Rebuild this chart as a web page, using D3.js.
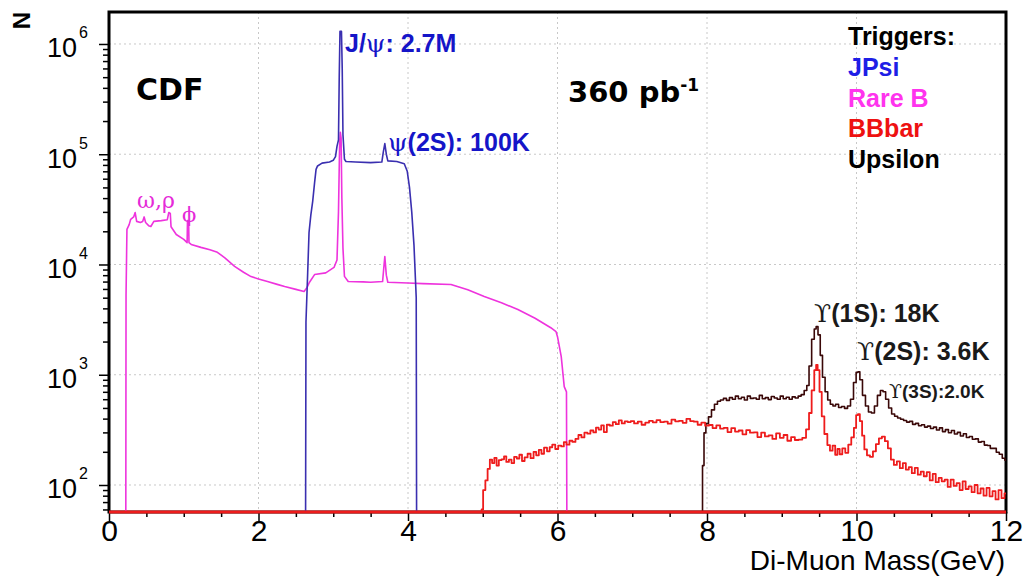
<!DOCTYPE html>
<html><head><meta charset="utf-8">
<script src="https://cdn.jsdelivr.net/npm/d3@7"></script>
<style>html,body{margin:0;padding:0;background:#fff;} svg{display:block}</style>
</head><body>
<svg id="chart" width="1023" height="578"></svg>
<script>
// ---------------- data (mass in GeV, counts per bin) ----------------
const xTicks = [0, 2, 4, 6, 8, 10, 12];
const yTicks = [1e2, 1e3, 1e4, 1e5, 1e6];
const legendLabels = ["Triggers:", "JPsi", "Rare B", "BBbar", "Upsilon"];

const rareBData = [
  [0.225,0],[0.228,5300],[0.24,20800],[0.27,23000],[0.29,25700],[0.33,27000],[0.35,29600],[0.37,24600],
  [0.42,24000],[0.45,24500],[0.47,27000],[0.49,24000],[0.53,22500],[0.56,22100],[0.6,24600],[0.7,25000],
  [0.78,25500],[0.80,29600],[0.82,29000],[0.83,22000],[0.9,18700],[1.0,16900],[1.045,15800],[1.05,25000],
  [1.065,25000],[1.07,15800],[1.1,15200],[1.23,14300],[1.35,13600],[1.45,12900],[1.55,11500],[1.68,9600],
  [1.8,8500],[1.9,7770],[2.0,7400],[2.12,7000],[2.25,6600],[2.35,6310],[2.5,5950],[2.61,5690],[2.65,6200],
  [2.68,6860],[2.75,8100],[2.9,8400],[3.01,9400],[3.05,11000],[3.07,30000],[3.085,120000],[3.095,158000],
  [3.105,140000],[3.115,40000],[3.13,14000],[3.15,7800],[3.2,7000],[3.4,6950],[3.5,6900],[3.66,7000],
  [3.68,10000],[3.69,11800],[3.71,8000],[3.73,6900],[4.0,6800],[4.2,6700],[4.575,6580],[4.8,5900],
  [5.02,5120],[5.25,4500],[5.47,3900],[5.7,3250],[5.91,2670],[5.98,2460],[6.0,2215],[6.05,1460],
  [6.09,780],[6.12,700],[6.125,0]
];

const jpsiData = [
  [2.63,0],[2.635,3000],[2.658,8400],[2.676,19500],[2.70,28000],[2.725,37400],[2.75,55000],
  [2.77,73000],[2.79,78300],[2.85,83000],[2.95,85000],[3.00,88000],[3.03,95000],[3.05,118000],
  [3.07,135000],[3.08,500000],[3.09,1300000],[3.11,1300000],[3.12,600000],[3.13,150000],[3.15,90000],
  [3.17,86000],[3.3,85000],[3.5,84000],[3.65,85000],[3.67,105000],[3.69,125000],[3.71,100000],
  [3.73,87000],[3.85,86000],[3.95,82000],[3.99,70000],[4.02,50000],[4.05,30000],[4.08,15000],
  [4.11,5000],[4.115,0]
];

const upsilonData = [
  [7.93,0],[7.95,150],[7.97,297],[8.00,360],[8.04,415],[8.08,480],[8.12,540],[8.16,575],[8.20,590],
  [8.24,610],[8.28,585],[8.32,620],[8.36,600],[8.40,640],[8.44,605],[8.48,625],[8.52,590],[8.56,640],
  [8.60,610],[8.64,615],[8.68,600],[8.72,650],[8.76,605],[8.80,620],[8.84,595],[8.88,635],[8.92,615],
  [8.96,600],[9.00,640],[9.04,605],[9.08,625],[9.12,600],[9.16,630],[9.20,615],[9.24,640],[9.28,660],
  [9.32,720],[9.35,800],[9.38,1200],[9.42,2100],[9.45,2600],[9.47,2730],[9.50,2300],[9.53,1500],
  [9.56,950],[9.60,700],[9.63,590],[9.67,540],[9.70,520],[9.74,540],[9.78,505],[9.82,515],[9.86,495],
  [9.90,520],[9.94,600],[9.98,850],[10.01,1050],[10.03,1065],[10.06,900],[10.10,650],[10.14,520],
  [10.18,460],[10.22,450],[10.26,520],[10.30,650],[10.34,720],[10.37,700],[10.41,600],[10.45,500],
  [10.49,440],[10.53,420],[10.57,405],[10.61,395],[10.65,385],[10.69,372],[10.73,378],[10.77,355],
  [10.81,362],[10.85,345],[10.89,352],[10.93,335],[10.97,342],[11.01,325],[11.05,335],[11.09,315],
  [11.13,330],[11.17,305],[11.21,318],[11.25,298],[11.29,312],[11.33,290],[11.37,300],[11.41,278],
  [11.45,292],[11.49,270],[11.53,275],[11.57,260],[11.61,262],[11.65,245],[11.69,248],[11.73,230],
  [11.77,228],[11.81,215],[11.85,215],[11.89,198],[11.93,190],[11.97,175],[12.0,168]
];

const bbbarData = [
  [0,0],[4.98,0],[4.99,60],[5.02,90],[5.05,110],[5.08,140],[5.11,170],[5.14,158],[5.17,176],[5.20,150],
  [5.23,168],[5.27,171],[5.30,182],[5.33,162],[5.37,170],[5.40,158],[5.44,180],[5.47,174],[5.51,188],
  [5.54,165],[5.58,178],[5.62,192],[5.66,175],[5.70,200],[5.73,186],[5.77,208],[5.80,192],[5.84,218],
  [5.88,202],[5.91,220],[5.95,232],[5.99,212],[6.03,228],[6.07,224],[6.10,245],[6.14,232],[6.18,252],
  [6.22,246],[6.26,262],[6.30,284],[6.34,270],[6.38,298],[6.42,292],[6.46,312],[6.50,300],[6.53,332],
  [6.57,318],[6.60,348],[6.64,302],[6.68,352],[6.72,345],[6.76,372],[6.80,356],[6.84,385],[6.88,362],
  [6.92,378],[6.96,372],[7.00,380],[7.05,362],[7.10,376],[7.15,352],[7.20,368],[7.25,382],[7.30,370],
  [7.35,388],[7.40,372],[7.45,376],[7.50,360],[7.55,392],[7.60,378],[7.65,382],[7.70,366],[7.75,398],
  [7.80,380],[7.85,375],[7.90,352],[7.95,368],[8.00,345],[8.05,350],[8.10,328],[8.15,348],[8.20,325],
  [8.25,330],[8.30,302],[8.35,328],[8.40,305],[8.45,312],[8.50,288],[8.55,315],[8.60,298],[8.65,300],
  [8.70,272],[8.75,298],[8.80,276],[8.85,282],[8.90,262],[8.95,294],[9.00,268],[9.05,284],[9.10,252],
  [9.15,272],[9.20,256],[9.25,258],[9.30,268],[9.35,320],[9.38,450],[9.42,720],[9.45,1100],[9.47,1230],
  [9.49,1100],[9.52,700],[9.55,420],[9.59,290],[9.63,230],[9.66,205],[9.70,228],[9.73,188],[9.76,212],
  [9.79,190],[9.83,215],[9.87,196],[9.91,232],[9.95,270],[9.98,330],[10.01,430],[10.03,440],[10.06,380],
  [10.09,280],[10.12,210],[10.16,186],[10.20,180],[10.24,202],[10.28,235],[10.32,265],[10.36,275],
  [10.40,250],[10.44,215],[10.48,170],[10.52,152],[10.56,164],[10.60,142],[10.64,158],[10.68,138],
  [10.72,145],[10.76,128],[10.80,143],[10.84,124],[10.88,132],[10.92,120],[10.96,131],[11.00,110],
  [11.04,126],[11.08,106],[11.12,116],[11.16,108],[11.20,112],[11.24,96],[11.28,112],[11.32,98],
  [11.36,104],[11.40,90],[11.44,108],[11.48,92],[11.52,97],[11.56,86],[11.60,100],[11.64,84],[11.68,93],
  [11.72,80],[11.76,94],[11.80,79],[11.84,88],[11.88,74],[11.92,90],[11.96,76],[12.0,84]
];

// ---------------- layout ----------------
const svg = d3.select("#chart");
const L = 109, R = 1006, T = 12, B = 512;
const x = d3.scaleLinear().domain([0, 12]).range([L, R]);
const y = d3.scaleLog().domain([56.9, 1.95e6]).range([B, T]);

const sans = "'Liberation Sans', Arial, Helvetica, sans-serif";
const narrow = "'Liberation Sans Narrow', 'Liberation Sans', Arial, sans-serif";
const serif = "'DejaVu Serif', 'Liberation Serif', serif";

// grid
const grid = svg.append("g").attr("stroke", "#c8c8c8").attr("stroke-width", 1).attr("stroke-dasharray", "2,3");
grid.selectAll("line.gx").data(xTicks.filter(d => d > 0 && d < 12)).join("line")
  .attr("x1", d => x(d)).attr("x2", d => x(d)).attr("y1", T).attr("y2", B);
grid.selectAll("line.gy").data(yTicks).join("line")
  .attr("x1", L).attr("x2", R).attr("y1", d => y(d)).attr("y2", d => y(d));

// axes
const minorY = [];
for (let e = 1; e <= 6; e++) for (let k = 2; k <= 9; k++) { const v = k * Math.pow(10, e); if (v > 56.9 && v < 1.95e6) minorY.push(v); }
const yMinorAxis = d3.axisLeft(y).tickValues(minorY).tickSize(6).tickFormat(() => "");
const yAxis = d3.axisLeft(y).tickValues(yTicks).tickSize(10).tickFormat(() => "");
const gyMinor = svg.append("g").attr("transform", `translate(${L},0)`).call(yMinorAxis);
const gy = svg.append("g").attr("transform", `translate(${L},0)`).call(yAxis);
[gyMinor, gy].forEach(g => { g.select(".domain").remove(); g.selectAll(".tick line").attr("stroke", "#000").attr("stroke-width", 1.5); });
gy.selectAll(".tick text").each(function (d) {
  const t = d3.select(this);
  t.text(null).attr("x", -21).attr("dy", null).attr("y", 13)
    .attr("text-anchor", "end").attr("fill", "#000").attr("font-family", sans).attr("font-size", 27);
  t.append("tspan").text("10");
  t.append("tspan").attr("dx", 2).attr("dy", -19).attr("font-size", 16).text(Math.round(Math.log10(d)));
});

const minorX = d3.range(0, 12.01, 0.5).filter(v => v % 2 !== 0);
const xMinorAxis = d3.axisBottom(x).tickValues(minorX).tickSize(5).tickFormat(() => "");
const xAxis = d3.axisBottom(x).tickValues(xTicks).tickSize(9).tickFormat(d3.format("d"));
const gxMinor = svg.append("g").attr("transform", `translate(0,${B})`).call(xMinorAxis);
const gx = svg.append("g").attr("transform", `translate(0,${B})`).call(xAxis);
[gxMinor, gx].forEach(g => { g.select(".domain").remove(); g.selectAll(".tick line").attr("stroke", "#000").attr("stroke-width", 1.5); });
gx.selectAll(".tick text").attr("y", 29).attr("dy", null).attr("fill", "#000")
  .attr("font-family", narrow).attr("font-size", 30);

// frame
svg.append("rect").attr("x", L).attr("y", T).attr("width", R - L).attr("height", B - T)
  .attr("fill", "none").attr("stroke", "#000").attr("stroke-width", 3);

// series
svg.append("defs").append("clipPath").attr("id", "clip").append("rect")
  .attr("x", L).attr("y", T).attr("width", R - L).attr("height", B - T + 2);
const yOf = d => d[1] > 0 ? y(d[1]) : B;
const lineLin = d3.line().x(d => x(d[0])).y(yOf).curve(d3.curveLinear);
const lineStep = d3.line().x(d => x(d[0])).y(yOf).curve(d3.curveStep);
const plot = svg.append("g").attr("clip-path", "url(#clip)").attr("fill", "none");
const series = [
  { data: rareBData, color: "#ee33dd", w: 1.6, gen: lineLin },
  { data: jpsiData, color: "#3a2fb0", w: 1.6, gen: lineLin },
  { data: upsilonData, color: "#3a0808", w: 1.6, gen: lineStep },
  { data: bbbarData, color: "#ee1c1c", w: 1.8, gen: lineStep }
];
plot.selectAll("path").data(series).join("path")
  .attr("d", d => d.gen(d.data)).attr("stroke", d => d.color).attr("stroke-width", d => d.w)
  .attr("stroke-linejoin", "round");
// BBbar histogram floor (zero bins sit on the frame bottom)
svg.append("line").attr("x1", L).attr("x2", R).attr("y1", B).attr("y2", B)
  .attr("stroke", "#ee1c1c").attr("stroke-width", 3);

// axis titles
svg.append("text").attr("transform", "translate(30,12) rotate(-90)").attr("text-anchor", "end")
  .attr("font-family", sans).attr("font-weight", "bold").attr("font-size", 24).text("N");
svg.append("text").attr("x", 1005).attr("y", 570).attr("text-anchor", "end")
  .attr("font-family", sans).attr("font-size", 28).text("Di-Muon Mass(GeV)");

// big labels
const dv = "'DejaVu Sans', Verdana, sans-serif";
svg.append("text").attr("x", 136).attr("y", 100).attr("font-family", dv).attr("font-weight", "bold")
  .attr("font-size", 30).text("CDF");
const lum = svg.append("text").attr("x", 568).attr("y", 102).attr("font-family", dv).attr("font-weight", "bold")
  .attr("font-size", 29);
lum.append("tspan").text("360 pb");
lum.append("tspan").attr("dy", -11).attr("font-size", 17).text("-1");

// legend
const legendColors = ["#000", "#1e1ee6", "#ff33ee", "#ee1111", "#000"];
svg.append("g").selectAll("text").data(legendLabels).join("text")
  .attr("x", 848).attr("y", (d, i) => 45 + i * 30.8)
  .attr("font-family", sans).attr("font-weight", "bold").attr("font-size", 25)
  .attr("fill", (d, i) => legendColors[i]).text(d => d);

// peak annotations
function ann(xp, yp, sym, rest, size, color) {
  const t = svg.append("text").attr("x", xp).attr("y", yp).attr("font-family", sans)
    .attr("font-weight", "bold").attr("font-size", size).attr("fill", color);
  t.append("tspan").attr("font-family", serif).attr("font-weight", "normal").text(sym);
  t.append("tspan").text(rest);
}
const annBlue = "#1515c8";
const jt = svg.append("text").attr("x", 345).attr("y", 52).attr("font-family", sans)
  .attr("font-weight", "bold").attr("font-size", 25).attr("fill", annBlue);
jt.append("tspan").text("J/");
jt.append("tspan").attr("font-family", serif).attr("font-weight", "normal").text("ψ");
jt.append("tspan").text(": 2.7M");
ann(388, 151, "ψ", "(2S): 100K", 25, annBlue);
ann(814, 322, "ϒ", "(1S): 18K", 25, "#1a1a1a");
ann(857, 360, "ϒ", "(2S): 3.6K", 25, "#1a1a1a");
ann(889, 398, "ϒ", "(3S):2.0K", 19, "#1a1a1a");

svg.append("text").attr("x", 137).attr("y", 208).attr("font-family", serif).attr("font-size", 22)
  .attr("fill", "#e52ad8").text("ω,ρ");
svg.append("text").attr("x", 182).attr("y", 222).attr("font-family", serif).attr("font-size", 21)
  .attr("fill", "#e52ad8").text("ϕ");
</script>
</body></html>
